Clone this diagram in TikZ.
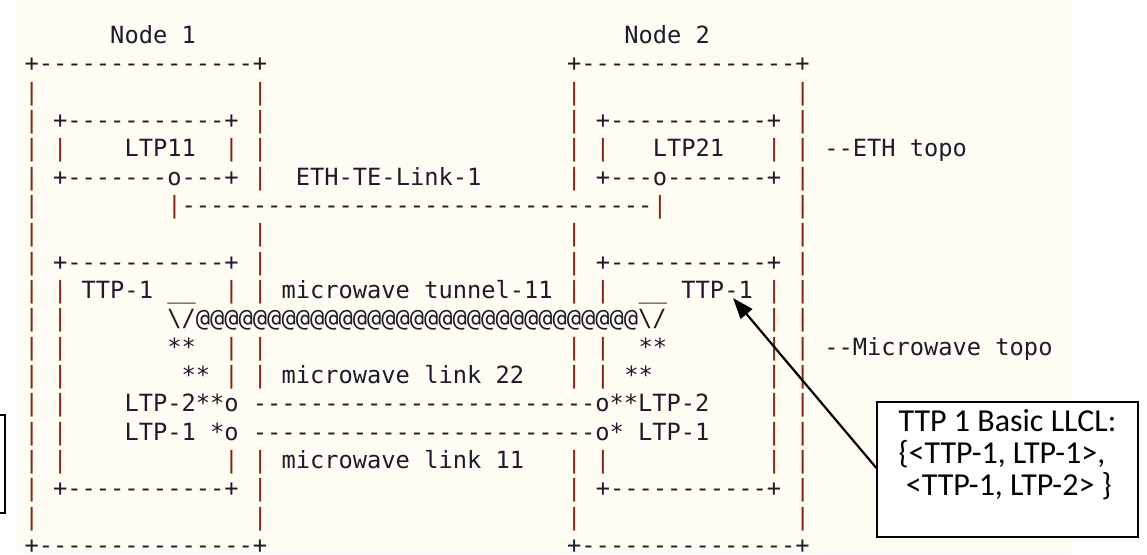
\documentclass[tikz,border=0pt]{standalone}
\usepackage{fontspec}
\usepackage{graphicx}
\setmainfont{Carlito}
\setmonofont{DejaVu Sans Mono}
\usetikzlibrary{arrows.meta}

\definecolor{paper}{RGB}{255,252,244}
\definecolor{ink}{RGB}{28,28,44}
\definecolor{rule}{RGB}{130,38,22}

\tikzset{
  asc/.style={anchor=base west, inner sep=0pt, outer sep=0pt, text=ink,
    font=\ttfamily\fontsize{23.7}{28}\selectfont},
  bar/.style={asc, text=rule},
  callout/.style={draw=black, line width=1.3pt, fill=white, inner sep=0pt,
    minimum width=261pt, minimum height=135pt, align=left, text=black,
    text depth=34pt, font=\fontsize{32}{32}\selectfont},
  pointer/.style={draw=black, line width=2.2pt,
    -{Triangle[length=21pt,width=15pt]}},
}

% text run placed on the character grid: name, row, column, text
\newcommand\txt[4]{\node[asc] (#1) at ({24.56+14.28*#3},{43.6+28.33*#2}) {#4};}
% vertical bars of a row: row, list of columns
\newcommand\bars[2]{\foreach \col in {#2}{%
  \node[bar] (bar-#1-\col) at ({24.56+14.28*\col},{43.6+28.33*#1}) {|};}}

\begin{document}
\begin{tikzpicture}[x=1pt,y=-1pt]
\useasboundingbox (0,0) rectangle (1147,554);
\clip (0,0) rectangle (1147,554);
\fill[white] (0,0) rectangle (1147,554);
\fill[paper] (17,0) rectangle (1073,554);

% frame at the left edge
\draw[line width=1.3pt] (-20,415) rectangle (5,513);

% node titles and outer frames
\txt{n1}{0}{6}{Node 1}
\txt{n2}{0}{42}{Node 2}
\txt{top1}{1}{0}{+---------------+}
\txt{top2}{1}{38}{+---------------+}
\bars{2}{0,16,38,54}

% ETH layer
\bars{3}{0,16,38,54}
\txt{ltpa-top}{3}{2}{+-----------+}
\txt{ltpb-top}{3}{40}{+-----------+}
\bars{4}{0,2,14,16,38,40,52,54}
\txt{ltp11}{4}{7}{LTP11}
\txt{ltp21}{4}{44}{LTP21}
\txt{eth}{4}{56}{--ETH topo}
\bars{5}{0,16,38,54}
\txt{ltpa-bot}{5}{2}{+-------o---+}
\txt{ethlink}{5}{19}{ETH-TE-Link-1}
\txt{ltpb-bot}{5}{40}{+---o-------+}
\bars{6}{0,10,44,54}
\txt{ethline}{6}{11}{---------------------------------}
\bars{7}{0,16,38,54}

% microwave layer
\bars{8}{0,16,38,54}
\txt{mwa-top}{8}{2}{+-----------+}
\txt{mwb-top}{8}{40}{+-----------+}
\bars{9}{0,2,14,16,38,40,52,54}
\txt{ttpa}{9}{4}{TTP-1}
\txt{ttpa-cap}{9}{10}{\_\_}
\txt{tunnel}{9}{18}{microwave tunnel-11}
\txt{ttpb-cap}{9}{43}{\_\_}
\txt{ttpb}{9}{46}{TTP-1}
\bars{10}{0,2,52,54}
\txt{tunnelline}{10}{10}{\textbackslash/@@@@@@@@@@@@@@@@@@@@@@@@@@@@@@@\textbackslash/}
\bars{11}{0,2,14,16,38,40,52,54}
\txt{sa1}{11}{10}{**}
\txt{sb1}{11}{43}{**}
\txt{mw}{11}{56}{--Microwave topo}
\bars{12}{0,2,14,16,38,40,52,54}
\txt{sa2}{12}{11}{**}
\txt{link22}{12}{18}{microwave link 22}
\txt{sb2}{12}{42}{**}
\bars{13}{0,2,52,54}
\txt{ltp2}{13}{7}{LTP-2**o ------------------------o**LTP-2}
\bars{14}{0,2,52,54}
\txt{ltp1}{14}{7}{LTP-1 *o ------------------------o* LTP-1}
\bars{15}{0,2,14,16,38,40,52,54}
\txt{link11}{15}{18}{microwave link 11}
\bars{16}{0,16,38,54}
\txt{mwa-bot}{16}{2}{+-----------+}
\txt{mwb-bot}{16}{40}{+-----------+}
\bars{17}{0,16,38,54}
\txt{bot1}{18}{0}{+---------------+}
\txt{bot2}{18}{38}{+---------------+}

% callout for the TTP
\node[callout] (note) at (1007.5,469.5)
  {TTP 1 Basic LLCL:\\{\{}<TTP-1, LTP-1>,\\~<TTP-1, LTP-2> \}};
\coordinate (tip) at (733,298);
\draw[pointer] ([yshift=1.5pt]note.west) -- (tip);
\end{tikzpicture}
\end{document}
